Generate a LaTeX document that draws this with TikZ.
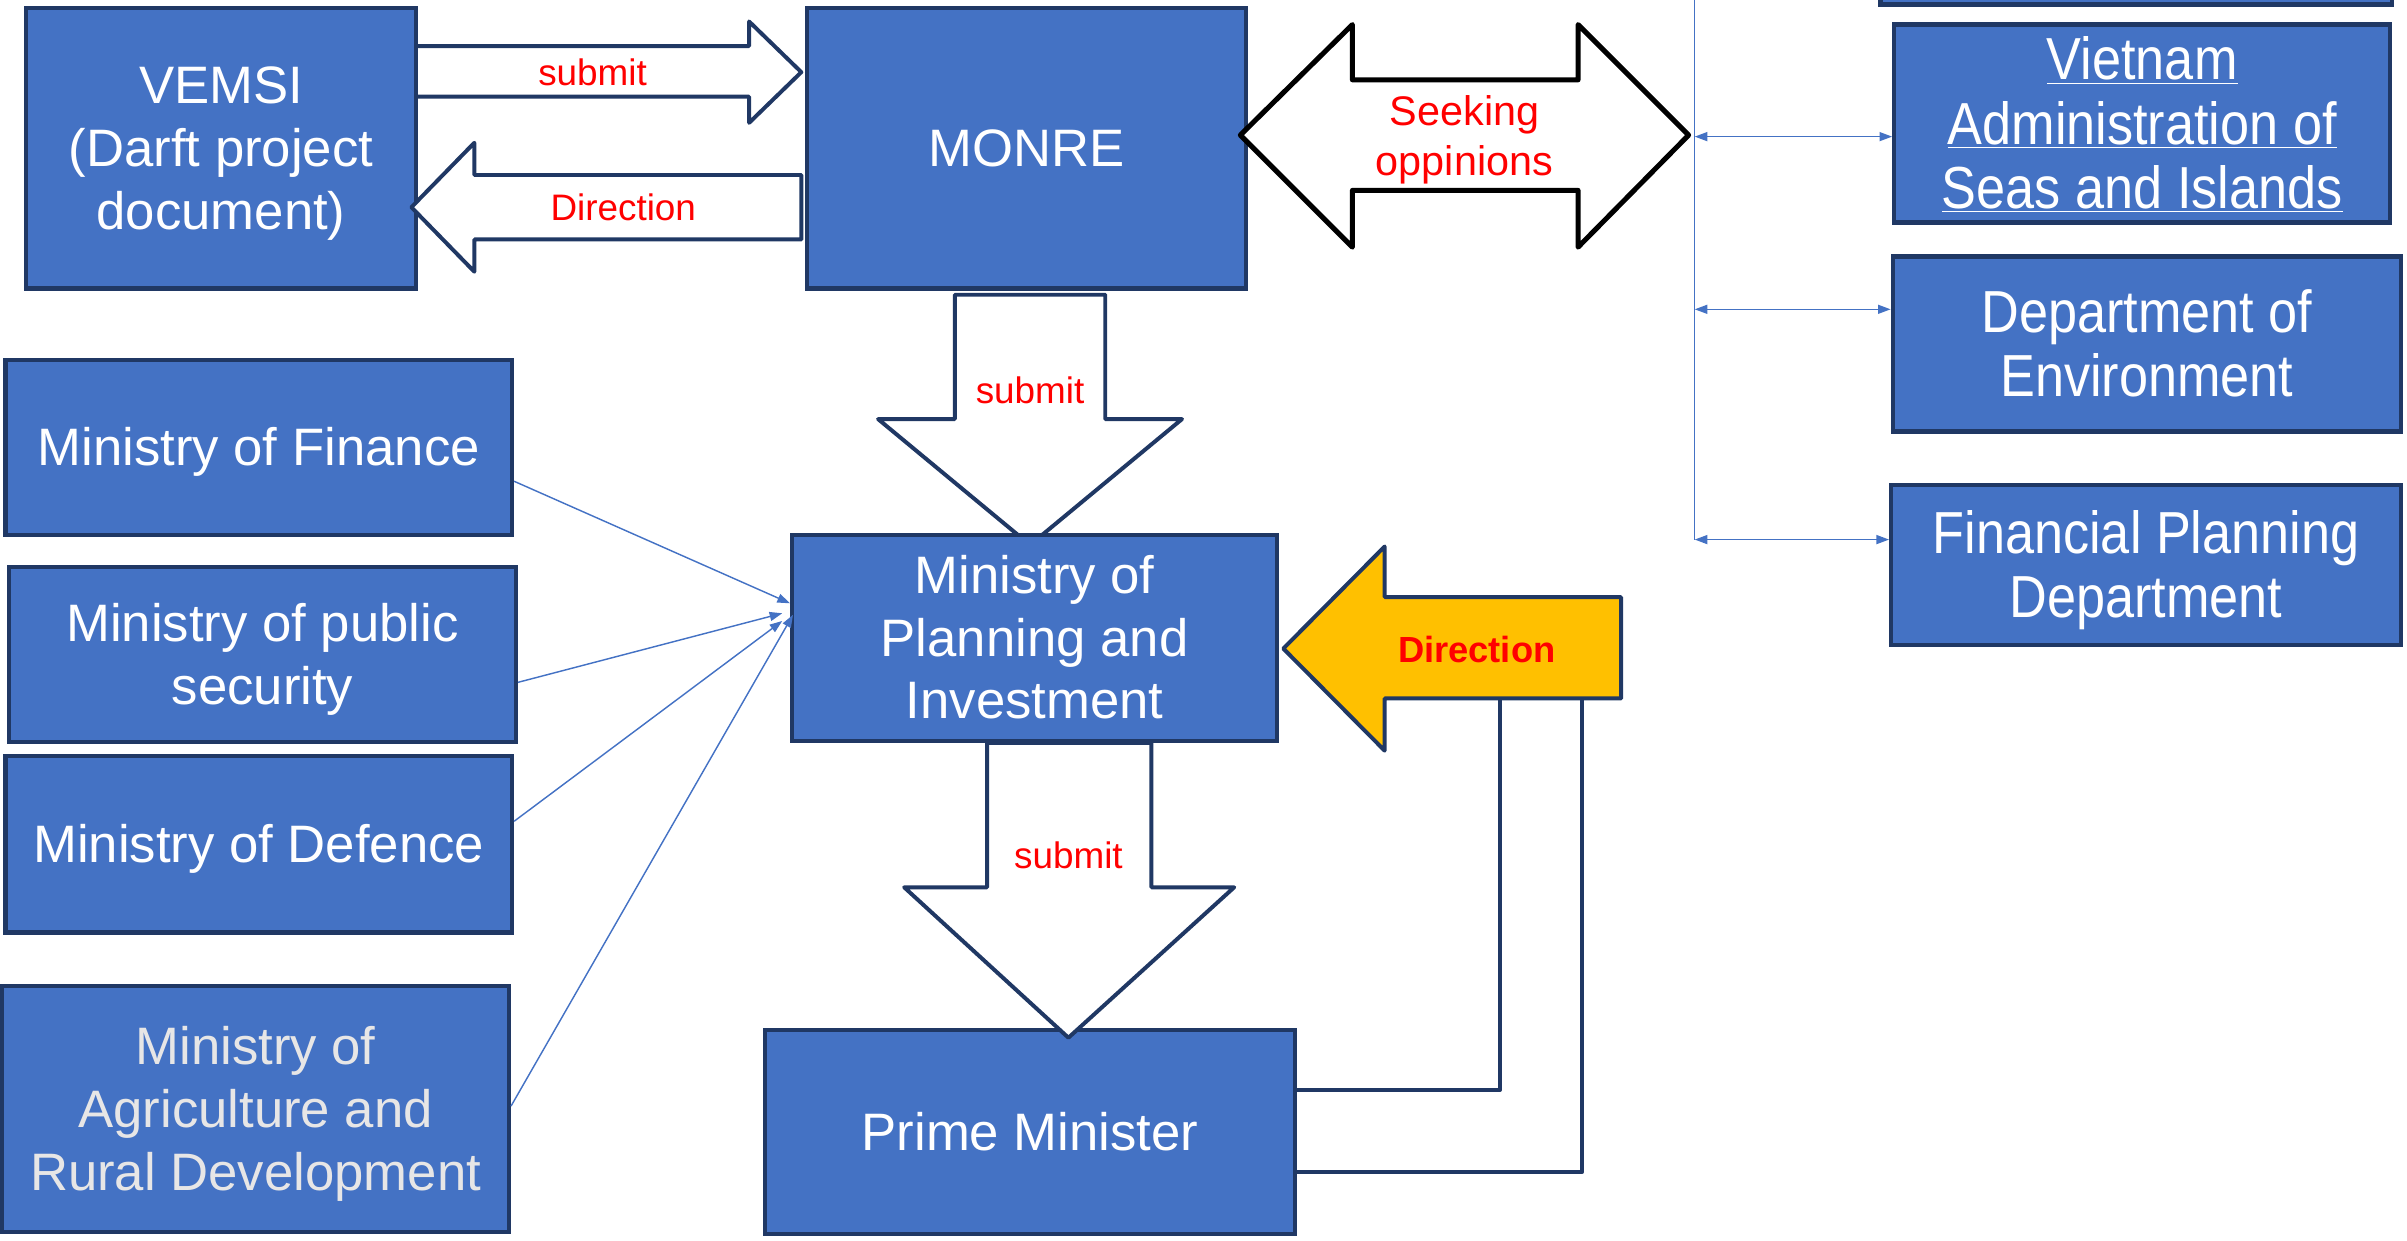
\documentclass[tikz,border=0pt]{standalone}
\usepackage{fontspec}
\setmainfont{Liberation Sans}
\newfontfamily\narrowfont[FakeStretch=0.88]{Liberation Sans}
\usetikzlibrary{arrows.meta,calc}
\definecolor{boxblue}{HTML}{4472C4}
\definecolor{navy}{HTML}{203864}
\definecolor{gold}{HTML}{FFC000}
\definecolor{softwhite}{HTML}{E7E6E6}
\definecolor{redtext}{HTML}{FF0000}
\newcommand{\tstr}{\rule{0pt}{0.9em}}
\newcommand{\bstr}{\rule[-0.21em]{0pt}{0.21em}}
\tikzset{
  box/.style={draw=navy, line width=2.4pt, fill=boxblue, text=white, align=center,
    inner sep=0pt, font=\fontsize{29.3}{35}\selectfont,
    execute at begin node={\tstr},
    execute at end node={\bstr}},
  rbox/.style={box, font=\narrowfont\fontsize{33}{35.7}\selectfont},
  blockarrow/.style={draw=navy, line width=2.2pt, fill=white, line join=round},
  lbl/.style={text=redtext, font=\fontsize{20.5}{24}\selectfont, inner sep=0pt, align=center},
  feed/.style={draw=boxblue, line width=0.8pt, -{Triangle[length=7pt,width=5pt]}},
  bus/.style={draw=boxblue, line width=0.8pt},
  busarrow/.style={bus, {Triangle[length=7pt,width=5pt]}-{Triangle[length=7pt,width=5pt]}},
  link/.style={draw=navy, line width=2.4pt, line join=round}
}
\begin{document}
\begin{tikzpicture}[x=0.03cm,y=-0.03cm]
\useasboundingbox (0,0) rectangle (1568,808);

% ---------- boxes ----------
\node[box, minimum width=9.99cm, minimum height=1.89cm] (topbox) at (1391.5,-28.5) {};
\node[box, minimum width=7.62cm, minimum height=5.49cm] (vemsi) at (144,96.5) {\tstr VEMSI\\(Darft project\\document)\bstr};
\node[box, minimum width=8.58cm, minimum height=5.49cm] (monre) at (668.5,96.5) {MONRE};

\node[box, minimum width=9.9cm, minimum height=3.42cm] (finance) at (168.5,291.5) {Ministry of Finance};
\node[box, minimum width=9.9cm, minimum height=3.42cm] (security) at (171,426.5) {\tstr Ministry of public\\security\bstr};
\node[box, minimum width=9.9cm, minimum height=3.45cm] (defence) at (168.5,550) {Ministry of Defence};
\node[box, minimum width=9.9cm, minimum height=4.8cm, text=softwhite] (agri) at (166.5,722.5) {\tstr Ministry of\\Agriculture and\\Rural Development\bstr};

\node[rbox, minimum width=9.69cm, minimum height=3.87cm] (viet) at (1395.5,80.5)
  {\tstr\underline{Vietnam}\\\underline{Administration of}\\\underline{Seas and Islands}\bstr};
\node[rbox, minimum width=9.93cm, minimum height=3.42cm] (env) at (1398.5,224) {\tstr Department of\\Environment\bstr};
\node[rbox, minimum width=9.96cm, minimum height=3.12cm] (fin) at (1398,368) {\tstr Financial Planning\\Department\bstr};

% ---------- arrow MONRE -> MPI (tip hidden under MPI) ----------
\draw[blockarrow] (622,192) -- (720,192) -- (720,273) -- (770,273) -- (671,355)
  -- (572,273) -- (622,273) -- cycle;
\node[lbl] (lsub2) at (671,254) {submit};

\node[box, minimum width=9.48cm, minimum height=4.02cm] (mpi) at (674,415.5) {\tstr Ministry of\\Planning and\\Investment\bstr};
\node[box, minimum width=10.35cm, minimum height=3.99cm] (pm) at (671,737.5) {Prime Minister};

% ---------- VEMSI <-> MONRE ----------
\draw[blockarrow] (271,30) -- (488,30) -- (488,14) -- (522,47) -- (488,80) -- (488,63)
  -- (271,63) -- cycle;
\node[lbl] (lsub1) at (386,47) {submit};
\draw[blockarrow] (522,114) -- (309,114) -- (309,93) -- (268,135) -- (309,177)
  -- (309,156) -- (522,156) -- cycle;
\node[lbl] (ldir1) at (406,135) {Direction};

% ---------- Seeking opinions double arrow ----------
\draw[draw=black, line width=2.8pt, fill=white, line join=round]
  (808,88) -- (881,16) -- (881,52) -- (1028,52) -- (1028,16) -- (1100,88)
  -- (1028,161) -- (1028,124) -- (881,124) -- (881,161) -- cycle;
\node[lbl, font=\fontsize{23}{27.6}\selectfont] (lseek) at (954,91) {Seeking\\oppinions};

% ---------- bus to departments ----------
\coordinate (vietIn) at ([yshift=-0.255cm]viet.west);
\coordinate (envIn) at ([yshift=0.675cm]env.west);
\coordinate (finIn) at ([yshift=0.495cm]fin.west);
\coordinate (busTop) at (1104,-2);
\draw[bus] (busTop) -- (finIn -| busTop);
\draw[busarrow] (vietIn -| busTop) -- (vietIn);
\draw[busarrow] (envIn -| busTop) -- (envIn);
\draw[busarrow] (finIn -| busTop) -- (finIn);

% ---------- ministries -> MPI ----------
\draw[feed] ([yshift=-0.66cm]finance.east) -- ([yshift=0.675cm]mpi.west);
\draw[feed] ([yshift=-0.54cm]security.east) -- ([xshift=-0.15cm,yshift=0.48cm]mpi.west);
\draw[feed] ([yshift=0.45cm]defence.east) -- ([xshift=-0.15cm,yshift=0.33cm]mpi.west);
\draw[feed] ([yshift=0.06cm]agri.east) -- ([xshift=0.06cm,yshift=0.45cm]mpi.west);

% ---------- MPI -> PM ----------
\draw[blockarrow] (643,484) -- (750,484) -- (750,578) -- (804,578) -- (696,676)
  -- (589,578) -- (643,578) -- cycle;
\node[lbl] (lsub3) at (696,557) {submit};

% ---------- PM -> Direction -> MPI ----------
\coordinate (pmA) at ([yshift=0.825cm]pm.east);
\coordinate (pmB) at ([yshift=-0.78cm]pm.east);
\coordinate (dirA) at (977,455);
\coordinate (dirB) at (1030.5,455);
\draw[link] (pmA) -| (dirA);
\draw[link] (pmB) -| (dirB);
\draw[draw=navy, line width=2.2pt, fill=gold, line join=round]
  (1056,389) -- (902,389) -- (902,356) -- (836,422.5) -- (902,489) -- (902,455)
  -- (1056,455) -- cycle;
\node[lbl, font=\bfseries\fontsize{20.2}{24}\selectfont] (ldir2) at (962,423) {Direction};
\end{tikzpicture}
\end{document}
